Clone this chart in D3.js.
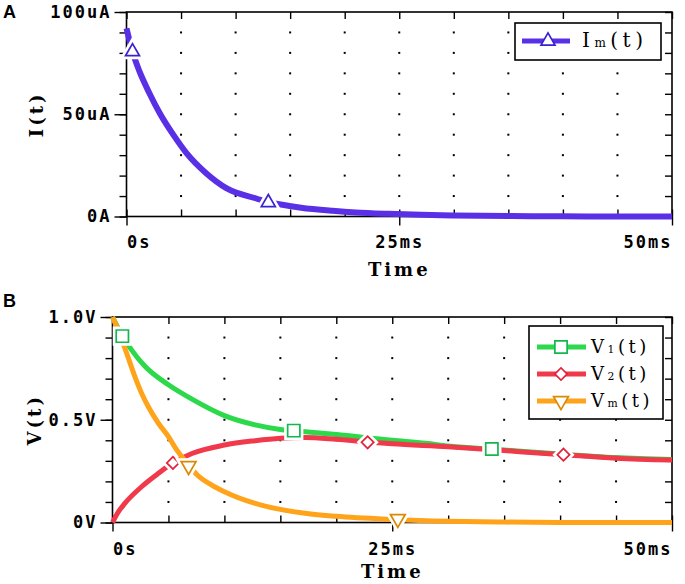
<!DOCTYPE html>
<html>
<head>
<meta charset="utf-8">
<title>I(t) and V(t)</title>
<style>
  body { margin: 0; background: #fff; }
  svg { display: block; }
</style>
<script src="https://cdnjs.cloudflare.com/ajax/libs/d3/7.8.5/d3.min.js"></script>
</head>
<body>
<script>
// ---- data ----
// time in ms
var xTicks = [0, 5, 10, 15, 20, 25, 30, 35, 40, 45, 50];
var xLabelTicks = [0, 25, 50];

// panel A: I(t) in uA
var tA = [0, 0.55, 1.2, 2.1, 3.05, 4.3, 5.5, 7.3, 9.15, 11.9, 13, 14, 16, 18.9, 21, 24, 27, 30, 35, 40, 45, 50];
var iA = [92, 80.6, 70.8, 60.3, 50.5, 39.9, 31, 21.2, 13.9, 8.8, 7.0, 6.0, 4.3, 2.8, 2.0, 1.3, 0.8, 0.5, 0.2, 0.1, 0, 0];
var markTA = [0.55, 13.0];
var markIA = [80.6, 6.8];
var yTicksA = [0, 10, 20, 30, 40, 50, 60, 70, 80, 90, 100];
var yLabelTicksA = [0, 50, 100];

// panel B: voltages in V
var tV1 = [0, 0.9, 1.7, 2.9, 5, 7.1, 10, 12.75, 15, 16.2, 20, 25, 28, 30, 35, 40, 45, 50];
var v1  = [1.0, 0.907, 0.84, 0.76, 0.67, 0.60, 0.52, 0.475, 0.453, 0.447, 0.428, 0.40, 0.386, 0.372, 0.353, 0.333, 0.316, 0.306];
var tV2 = [0, 0.5, 1.1, 2.6, 4, 5.4, 7.1, 10, 12.75, 15, 17.2, 20, 22.8, 25, 30, 35, 40.3, 45, 50];
var v2  = [0, 0.05, 0.093, 0.174, 0.235, 0.29, 0.336, 0.377, 0.398, 0.41, 0.414, 0.405, 0.392, 0.383, 0.369, 0.35, 0.33, 0.313, 0.304];
var tVm = [0, 0.67, 1.27, 2.0, 2.6, 3.2, 4.1, 5.0, 5.74, 6.8, 7.6, 8.87, 10, 12.75, 15, 17.2, 20, 25, 30, 35, 40, 50];
var vm  = [1.0, 0.912, 0.823, 0.71, 0.629, 0.563, 0.483, 0.418, 0.353, 0.28, 0.23, 0.182, 0.15, 0.093, 0.064, 0.045, 0.03, 0.015, 0.006, 0.002, 0, 0];
var markT1 = [0.88, 16.2, 33.9], markV1 = [0.907, 0.447, 0.358];
var markT2 = [5.4, 22.8, 40.3],  markV2 = [0.29, 0.39, 0.33];
var markTm = [6.8, 25.5],        markVm = [0.275, 0.018];
var yTicksB = [0, 0.1, 0.2, 0.3, 0.4, 0.5, 0.6, 0.7, 0.8, 0.9, 1.0];
var yLabelTicksB = [0, 0.5, 1.0];

var W = 685, H = 584;
var tickFont = "'DejaVu Sans Mono', monospace";
var titleFont = "'DejaVu Serif', 'Liberation Serif', serif";

var svg = d3.select("body").append("svg")
  .attr("width", W)
  .attr("height", H);

function zip(xs, ys) {
  return xs.map(function(d, i){ return [d, ys[i]]; });
}

function styleAxis(g) {
  g.select(".domain").remove();
  g.selectAll(".tick line").attr("stroke", "#000").attr("stroke-width", 1.4);
  g.selectAll(".tick text")
    .attr("fill", "#000")
    .attr("font-family", tickFont)
    .attr("font-weight", "bold")
    .attr("font-size", 17)
    .attr("letter-spacing", "2px");
}

function marker(g, type, rot, pts, x, y, size, color) {
  var sym = d3.symbol().type(type).size(size);
  var sel = g.selectAll(null).data(pts).enter();
  // white halo that breaks the trace around the marker
  sel.append("path")
    .attr("d", sym)
    .attr("transform", function(d){ return "translate(" + x(d[0]) + "," + y(d[1]) + ") rotate(" + rot + ")"; })
    .style("fill", "#fff")
    .style("stroke", "#fff")
    .style("stroke-width", 7);
  sel.append("path")
    .attr("d", sym)
    .attr("transform", function(d){ return "translate(" + x(d[0]) + "," + y(d[1]) + ") rotate(" + rot + ")"; })
    .style("fill", "#fff")
    .style("stroke", color)
    .style("stroke-width", 1.7);
}

function drawPanel(opt) {
  var x = d3.scaleLinear().domain([0, 50]).range([opt.left, opt.right]);
  var y = d3.scaleLinear().domain(opt.yDomain).range([opt.bottom, opt.top]);
  var g = svg.append("g");

  // dotted grid: only the points where grid lines cross
  var dots = [];
  xTicks.slice(1, -1).forEach(function(tx){
    opt.yTicks.slice(1, -1).forEach(function(ty){ dots.push([tx, ty]); });
  });
  g.selectAll(".dot").data(dots).enter().append("rect")
    .attr("x", function(d){ return x(d[0]) - 1; })
    .attr("y", function(d){ return y(d[1]) - 1; })
    .attr("width", 2)
    .attr("height", 2)
    .style("fill", "#000");

  // frame
  g.append("rect")
    .attr("x", opt.left)
    .attr("y", opt.top)
    .attr("width", opt.right - opt.left)
    .attr("height", opt.bottom - opt.top)
    .style("fill", "none")
    .style("stroke", "#000")
    .style("stroke-width", 1.6);

  // left: minor ticks outward, major ticks with labels
  g.append("g").attr("transform", "translate(" + opt.left + ",0)")
    .call(d3.axisLeft(y).tickValues(opt.yTicks).tickSize(7).tickSizeOuter(0).tickFormat(""))
    .call(styleAxis);
  g.append("g").attr("transform", "translate(" + opt.left + ",0)")
    .call(d3.axisLeft(y).tickValues(opt.yLabelTicks).tickSize(12).tickPadding(3).tickSizeOuter(0).tickFormat(opt.yFormat))
    .call(styleAxis);
  // right: inward ticks
  g.append("g").attr("transform", "translate(" + opt.right + ",0)")
    .call(d3.axisRight(y).tickValues(opt.yTicks).tickSize(-7).tickSizeOuter(0).tickFormat(""))
    .call(styleAxis);
  // top: inward ticks
  g.append("g").attr("transform", "translate(0," + opt.top + ")")
    .call(d3.axisTop(x).tickValues(xTicks).tickSize(-7).tickSizeOuter(0).tickFormat(""))
    .call(styleAxis);
  // bottom: inward ticks, plus outward labelled ticks
  g.append("g").attr("transform", "translate(0," + opt.bottom + ")")
    .call(d3.axisBottom(x).tickValues(xTicks).tickSize(-7).tickSizeOuter(0).tickFormat(""))
    .call(styleAxis);
  var xb = g.append("g").attr("transform", "translate(0," + opt.bottom + ")")
    .call(d3.axisBottom(x).tickValues(xLabelTicks).tickSize(9).tickPadding(opt.xPad).tickSizeOuter(0)
      .tickFormat(function(d){ return d === 0 ? "0s" : d + "ms"; }))
    .call(styleAxis);
  xb.selectAll(".tick text").attr("text-anchor", function(d){
    return d === 0 ? "start" : (d === 50 ? "end" : "middle");
  });

  // axis titles
  g.append("text")
    .attr("x", x(25))
    .attr("y", opt.timeY)
    .attr("text-anchor", "middle")
    .attr("font-family", titleFont)
    .attr("font-weight", "bold")
    .attr("font-size", 18)
    .attr("letter-spacing", "3px")
    .text("Time");
  g.append("text")
    .attr("transform", "translate(" + opt.titleX + "," + y(opt.yDomain[1] / 2) + ") rotate(-90)")
    .attr("text-anchor", "middle")
    .attr("dy", "0.35em")
    .attr("font-family", titleFont)
    .attr("font-weight", "bold")
    .attr("font-size", 18)
    .attr("letter-spacing", "3px")
    .text(opt.yTitle);

  // panel letter
  g.append("text")
    .attr("x", 3)
    .attr("y", opt.letterY)
    .attr("font-family", "'Liberation Sans', Arial, sans-serif")
    .attr("font-weight", "bold")
    .attr("font-size", 18)
    .text(opt.letter);

  var line = d3.line()
    .x(function(d){ return x(d[0]); })
    .y(function(d){ return y(d[1]); })
    .curve(d3.curveMonotoneX);

  opt.series.forEach(function(s){
    g.append("path")
      .datum(zip(s.t, s.v))
      .attr("d", line)
      .style("fill", "none")
      .style("stroke", s.color)
      .style("stroke-width", opt.lineWidth);
  });
  opt.series.forEach(function(s){
    marker(g, s.symbol, s.rot, zip(s.mt, s.mv), x, y, s.size, s.mcolor);
  });

  // legend
  var lg = g.append("g");
  lg.append("rect")
    .attr("x", opt.legend.x)
    .attr("y", opt.legend.y)
    .attr("width", opt.legend.w)
    .attr("height", opt.legend.h)
    .style("fill", "#fff")
    .style("stroke", "#000")
    .style("stroke-width", 1.6);
  opt.series.forEach(function(s, i){
    var ly = opt.legend.rows[i];
    lg.append("line")
      .attr("x1", opt.legend.lx1)
      .attr("x2", opt.legend.lx2)
      .attr("y1", ly)
      .attr("y2", ly)
      .style("stroke", s.color)
      .style("stroke-width", 5);
    var sym = d3.symbol().type(s.symbol).size(s.size);
    lg.append("path")
      .attr("d", sym)
      .attr("transform", "translate(" + opt.legend.mx + "," + ly + ") rotate(" + s.rot + ")")
      .style("fill", "#fff")
      .style("stroke", s.mcolor)
      .style("stroke-width", 1.7);
    var t = lg.append("text")
      .attr("x", opt.legend.tx)
      .attr("y", ly + 6)
      .attr("font-family", titleFont)
      .attr("font-size", opt.legend.fs)
      .attr("letter-spacing", opt.legend.ls + "px")
      .attr("fill", "#000");
    t.append("tspan").text(s.name[0]);
    t.append("tspan").attr("font-size", opt.legend.fs * 0.6).text(s.name[1]);
    t.append("tspan").text(s.name[2]);
  });
}

drawPanel({
  letter: "A", letterY: 18,
  left: 126.5, right: 672, top: 12, bottom: 216.5,
  yDomain: [0, 100], yTicks: yTicksA, yLabelTicks: yLabelTicksA,
  yFormat: function(d){ return d === 0 ? "0A" : d + "uA"; },
  yTitle: "I(t)", titleX: 37, timeY: 276, xPad: 10,
  lineWidth: 6,
  series: [
    { t: tA, v: iA, mt: markTA, mv: markIA, color: "#5a30e6", mcolor: "#3a22d0",
      symbol: d3.symbolTriangle, rot: 0, size: 85, name: ["I", "m", "(t)"] }
  ],
  legend: { x: 515, y: 23, w: 146, h: 37, rows: [41], lx1: 522, lx2: 570, mx: 548, tx: 582, fs: 20, ls: 4.5 }
});

drawPanel({
  letter: "B", letterY: 307,
  left: 112.5, right: 672, top: 317, bottom: 522.5,
  yDomain: [0, 1], yTicks: yTicksB, yLabelTicks: yLabelTicksB,
  yFormat: function(d){ return d === 0 ? "0V" : d3.format(".1f")(d) + "V"; },
  yTitle: "V(t)", titleX: 35, timeY: 578, xPad: 11,
  lineWidth: 5,
  series: [
    { t: tV1, v: v1, mt: markT1, mv: markV1, color: "#2bd94a", mcolor: "#12b84e",
      symbol: d3.symbolSquare, rot: 0, size: 150, name: ["V", "1", "(t)"] },
    { t: tV2, v: v2, mt: markT2, mv: markV2, color: "#f03a4c", mcolor: "#e2223c",
      symbol: d3.symbolSquare, rot: 45, size: 75, name: ["V", "2", "(t)"] },
    { t: tVm, v: vm, mt: markTm, mv: markVm, color: "#ffa31a", mcolor: "#d98a00",
      symbol: d3.symbolTriangle, rot: 180, size: 95, name: ["V", "m", "(t)"] }
  ],
  legend: { x: 529, y: 326, w: 134, h: 93, rows: [347, 374, 401], lx1: 537, lx2: 586, mx: 561, tx: 591, fs: 18, ls: 3.5 }
});
</script>
</body>
</html>
